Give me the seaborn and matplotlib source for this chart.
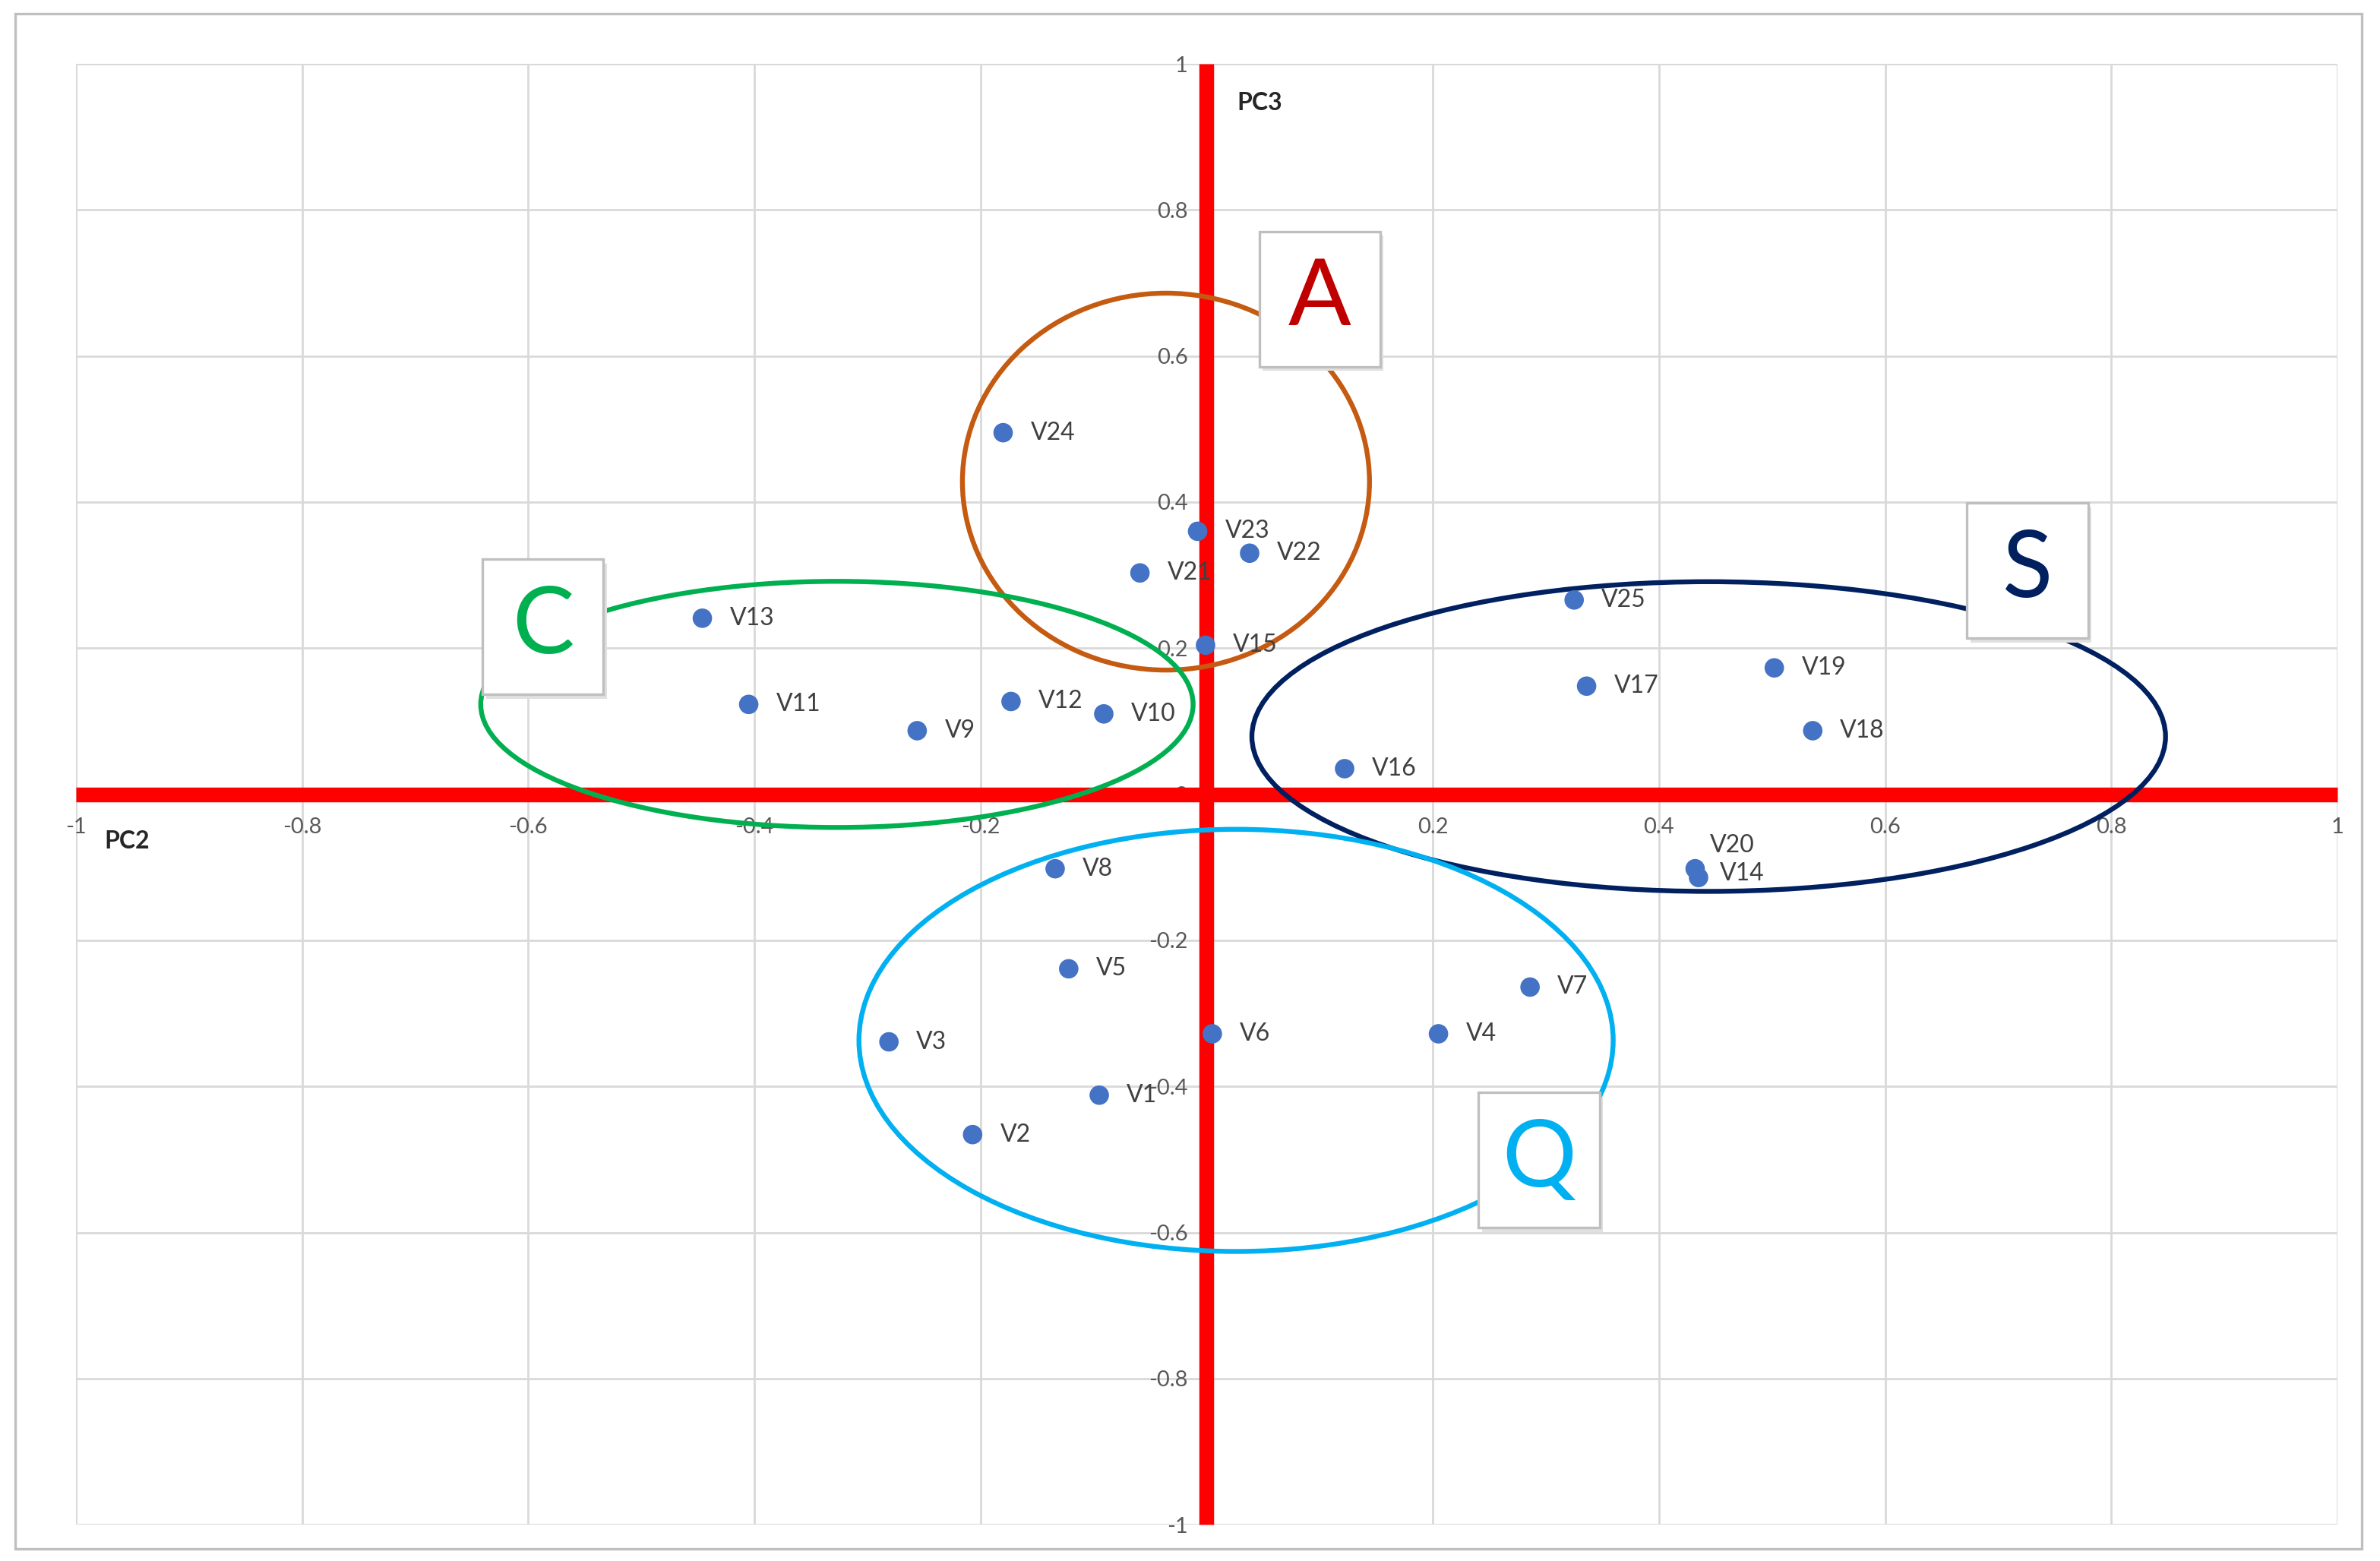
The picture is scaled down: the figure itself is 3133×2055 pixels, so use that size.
import numpy as np
import pandas as pd
import matplotlib.pyplot as plt
import seaborn as sns
from matplotlib.patches import Ellipse, Rectangle

# PCA loadings (PC2 vs PC3)
labels = ["V1", "V2", "V3", "V4", "V5", "V6", "V7", "V8", "V9", "V10",
          "V11", "V12", "V13", "V14", "V15", "V16", "V17", "V18", "V19", "V20",
          "V21", "V22", "V23", "V24", "V25"]
pc2 = [-0.095, -0.207, -0.281, 0.205, -0.122, 0.005, 0.286, -0.134, -0.256, -0.091,
       -0.405, -0.173, -0.446, 0.435, -0.001, 0.122, 0.336, 0.536, 0.502, 0.432,
       -0.059, 0.038, -0.008, -0.180, 0.325]
pc3 = [-0.412, -0.466, -0.339, -0.328, -0.239, -0.328, -0.264, -0.102, 0.087, 0.110,
       0.123, 0.127, 0.241, -0.114, 0.204, 0.035, 0.148, 0.087, 0.173, -0.102,
       0.303, 0.330, 0.360, 0.495, 0.266]

ticks = [-1, -0.8, -0.6, -0.4, -0.2, 0, 0.2, 0.4, 0.6, 0.8, 1]
tick_labels = ["-1", "-0.8", "-0.6", "-0.4", "-0.2", "0", "0.2", "0.4", "0.6", "0.8", "1"]

# cluster groups
group_names = ["A", "C", "S", "Q"]
group_colors = ["#C55A11", "#00B050", "#002060", "#00B0F0"]
letter_colors = ["#C00000", "#00B050", "#002060", "#00B0F0"]

df = pd.DataFrame({"pc2": pc2, "pc3": pc3, "label": labels})

sns.set_style("white")
plt.rcParams["font.family"] = ["Lato", "DejaVu Sans"]

fig = plt.figure(figsize=(15.665, 10.275), dpi=200)
ax = fig.add_axes([0.0319, 0.0233, 0.9502, 0.9358])

# outer chart border
fig.patches.append(Rectangle((0.0064, 0.0078), 0.986, 0.9834, transform=fig.transFigure,
                             fill=False, ec="#BFBFBF", lw=1.2))

ax.set_xlim(-1, 1)
ax.set_ylim(-1, 1)
ax.set_xticks(ticks)
ax.set_yticks(ticks)
ax.set_xticklabels(tick_labels)
ax.set_yticklabels(tick_labels)
ax.grid(True, color="#D9D9D9", lw=1.0)
ax.set_axisbelow(True)

# axes through the origin in thick red
for side in ["left", "bottom"]:
    ax.spines[side].set_position("zero")
    ax.spines[side].set_color("#FF0000")
    ax.spines[side].set_linewidth(7)
    ax.spines[side].set_capstyle("butt")
    ax.spines[side].set_zorder(1.5)
for side in ["top", "right"]:
    ax.spines[side].set_visible(False)
ax.add_patch(Rectangle((0, 0), 1, 1, transform=ax.transAxes, fill=False,
                       ec="#D9D9D9", lw=1.0, zorder=0.5))
ax.tick_params(axis="both", length=0, labelsize=10.5, labelcolor="#595959")
ax.tick_params(axis="x", pad=11)
ax.tick_params(axis="y", pad=9)

# cluster ellipses (center x, center y, width, height)
shapes = [(-0.036, 0.428, 0.36, 0.516),
          (-0.327, 0.123, 0.63, 0.337),
          (0.444, 0.079, 0.808, 0.424),
          (0.026, -0.337, 0.667, 0.578)]
for (cx, cy, w, h), col in zip(shapes, group_colors):
    ax.add_patch(Ellipse((cx, cy), w, h, fill=False, ec=col, lw=2.3, zorder=2))

sns.scatterplot(data=df, x="pc2", y="pc3", ax=ax, color="#4472C4", s=85,
                edgecolor="none", zorder=3, legend=False)
offsets = {"V20": (7, 11), "V14": (10, 2)}
for _, r in df.iterrows():
    ax.annotate(r["label"], (r["pc2"], r["pc3"]), xytext=offsets.get(r["label"], (13, 0)),
                textcoords="offset points", va="center", ha="left", fontsize=11.5,
                color="#404040", zorder=4)

# letter boxes
box_pos = [(0.10, 0.678), (-0.587, 0.229), (0.726, 0.306), (0.294, -0.501)]
bw, bh = 0.107, 0.185
for (bx, by), name, col in zip(box_pos, group_names, letter_colors):
    ax.add_patch(Rectangle((bx - bw / 2 + 0.003, by - bh / 2 - 0.006), bw, bh,
                           fc="#E0E0E0", ec="none", zorder=4.8))
    ax.add_patch(Rectangle((bx - bw / 2, by - bh / 2), bw, bh, fc="white",
                           ec="#BFBFBF", lw=1.2, zorder=5))
    ax.text(bx, by, name, ha="center", va="center", fontsize=44, color=col, zorder=6)

ax.text(-0.975, -0.064, "PC2", fontsize=11.5, fontweight="bold", va="center", ha="left")
ax.text(0.027, 0.946, "PC3", fontsize=11.5, fontweight="bold", va="center", ha="left")
ax.set_xlabel("")
ax.set_ylabel("")

fig.savefig("out.png", dpi=200)
